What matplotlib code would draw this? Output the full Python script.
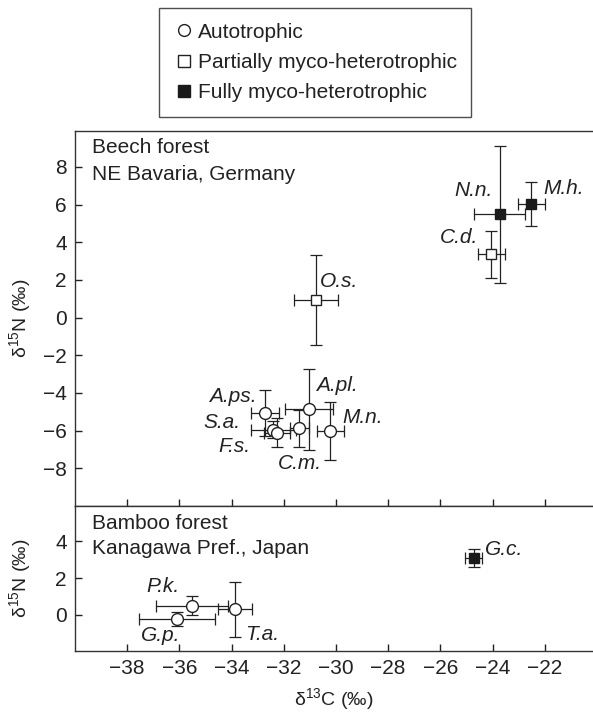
import numpy as np
import matplotlib
matplotlib.use('Agg')
import matplotlib.pyplot as plt
from matplotlib.lines import Line2D

plt.rcParams['font.family'] = ['Liberation Sans', 'DejaVu Sans']
plt.rcParams['mathtext.fontset'] = 'custom'
plt.rcParams['mathtext.rm'] = 'Liberation Sans'
plt.rcParams['mathtext.it'] = 'Liberation Sans:italic'
plt.rcParams['font.size'] = 15

# Beech forest, NE Bavaria
beech_names = ['N.n.', 'M.h.', 'C.d.', 'O.s.', 'A.pl.', 'A.ps.', 'S.a.', 'F.s.', 'C.m.', 'M.n.']
beech_type = ['full', 'full', 'partial', 'partial', 'auto', 'auto', 'auto', 'auto', 'auto', 'auto']
beech_c13 = [-23.72, -22.51, -24.05, -30.77, -31.03, -32.73, -32.40, -32.25, -31.40, -30.21]
beech_c13_err = [0.98, 0.53, 0.52, 0.83, 0.93, 0.54, 0.85, 0.50, 0.35, 0.51]
beech_n15 = [5.47, 6.05, 3.35, 0.93, -4.87, -5.08, -5.95, -6.10, -5.88, -6.02]
beech_n15_err = [3.66, 1.17, 1.25, 2.37, 2.14, 1.23, 0.45, 0.75, 1.00, 1.55]

# Bamboo forest, Kanagawa
bamboo_names = ['G.c.', 'P.k.', 'G.p.', 'T.a.']
bamboo_type = ['full', 'auto', 'auto', 'auto']
bamboo_c13 = [-24.72, -35.51, -36.08, -33.88]
bamboo_c13_err = [0.32, 1.37, 1.45, 0.65]
bamboo_n15 = [3.09, 0.51, -0.22, 0.31]
bamboo_n15_err = [0.50, 0.50, 0.40, 1.50]

x_ticks = [-38, -36, -34, -32, -30, -28, -26, -24, -22]
beech_yticks = [-8, -6, -4, -2, 0, 2, 4, 6, 8]
bamboo_yticks = [0, 2, 4]

# label offsets in points (dx, dy)
beech_offsets = [(-19, 17), (23, 11), (-23, 12), (17, 13), (20, 17), (-23, 12),
                 (-37, 5), (-31, -10), (0, -25), (23, 10)]
bamboo_offsets = [(22, 6), (-21, 14), (-12, -12), (20, -18)]

INK = '#222222'
styles = {
    'auto': dict(marker='o', ms=8.5, mfc='white', mec=INK, mew=1.0),
    'partial': dict(marker='s', ms=7.5, mfc='white', mec=INK, mew=1.0),
    'full': dict(marker='s', ms=7.5, mfc='#1a1a1a', mec='#1a1a1a', mew=1.0),
}

fig = plt.figure(figsize=(5.93, 7.12), dpi=100)
ax1 = fig.add_axes([0.1265, 0.2893, 0.8735, 0.5267])
ax2 = fig.add_axes([0.1265, 0.0857, 0.8735, 0.2037])


def draw_panel(ax, names, kinds, xs, xerr, ys, yerr, offsets):
    ax.errorbar(xs, ys, xerr=xerr, yerr=yerr, fmt='none', ecolor=INK,
                elinewidth=0.9, capsize=4, capthick=0.9, zorder=2)
    for name, k, x, y, off in zip(names, kinds, xs, ys, offsets):
        ax.plot(x, y, linestyle='none', zorder=3, **styles[k])
        ax.annotate(name, (x, y), xytext=off, textcoords='offset points',
                    ha='center', va='center', style='italic', fontsize=15,
                    color=INK)


draw_panel(ax1, beech_names, beech_type, beech_c13, beech_c13_err,
           beech_n15, beech_n15_err, beech_offsets)
draw_panel(ax2, bamboo_names, bamboo_type, bamboo_c13, bamboo_c13_err,
           bamboo_n15, bamboo_n15_err, bamboo_offsets)

for ax in (ax1, ax2):
    ax.set_xlim(-40, -20.15)
    ax.set_xticks(x_ticks)
    ax.tick_params(direction='in', length=5, width=1, color=INK,
                   labelcolor=INK, labelsize=15, pad=6)
    ax.spines['right'].set_visible(False)
    for s in ('left', 'top', 'bottom'):
        ax.spines[s].set_color('#333333')
        ax.spines[s].set_linewidth(1.0)

ax1.set_ylim(-10, 9.9)
ax1.set_yticks(beech_yticks)
ax1.set_yticklabels([f'\u2212{abs(v)}' if v < 0 else str(v) for v in beech_yticks])
ax1.tick_params(axis='x', labelbottom=False)
ax1.set_ylabel('\u03b4$^{15}$N (\u2030)', fontsize=14, color=INK)
ax1.yaxis.set_label_coords(-0.082, 0.5)
ax1.text(0.032, 0.955, 'Beech forest', transform=ax1.transAxes, ha='left',
         va='center', fontsize=15, color=INK)
ax1.text(0.032, 0.883, 'NE Bavaria, Germany', transform=ax1.transAxes,
         ha='left', va='center', fontsize=15, color=INK)

ax2.set_ylim(-1.95, 5.9)
ax2.set_yticks(bamboo_yticks)
ax2.set_xticklabels([f'\u2212{abs(v)}' for v in x_ticks])
ax2.set_ylabel('\u03b4$^{15}$N (\u2030)', fontsize=14, color=INK)
ax2.yaxis.set_label_coords(-0.082, 0.5)
ax2.set_xlabel('\u03b4$^{13}$C (\u2030)', fontsize=14, color=INK)
ax2.xaxis.set_label_coords(0.5, -0.245)
ax2.text(0.032, 0.88, 'Bamboo forest', transform=ax2.transAxes, ha='left',
         va='center', fontsize=15, color=INK)
ax2.text(0.032, 0.71, 'Kanagawa Pref., Japan', transform=ax2.transAxes,
         ha='left', va='center', fontsize=15, color=INK)

handles = [
    Line2D([], [], linestyle='none', marker='o', ms=8.5, mfc='white', mec=INK, mew=1.0),
    Line2D([], [], linestyle='none', marker='s', ms=8, mfc='white', mec=INK, mew=1.0),
    Line2D([], [], linestyle='none', marker='s', ms=8, mfc='#1a1a1a', mec='#1a1a1a'),
]
leg = fig.legend(handles, ['Autotrophic', 'Partially myco-heterotrophic',
                           'Fully myco-heterotrophic'],
                 loc='upper left', bbox_to_anchor=(159 / 593, 1 - 8 / 712),
                 borderaxespad=0, borderpad=0.7, handlelength=1.0,
                 handletextpad=0.16, labelspacing=0.54, fancybox=False,
                 fontsize=15, frameon=True)
leg.get_frame().set_edgecolor(INK)
leg.get_frame().set_linewidth(1.0)
for t in leg.get_texts():
    t.set_color(INK)

fig.savefig('out.png', dpi=100)
